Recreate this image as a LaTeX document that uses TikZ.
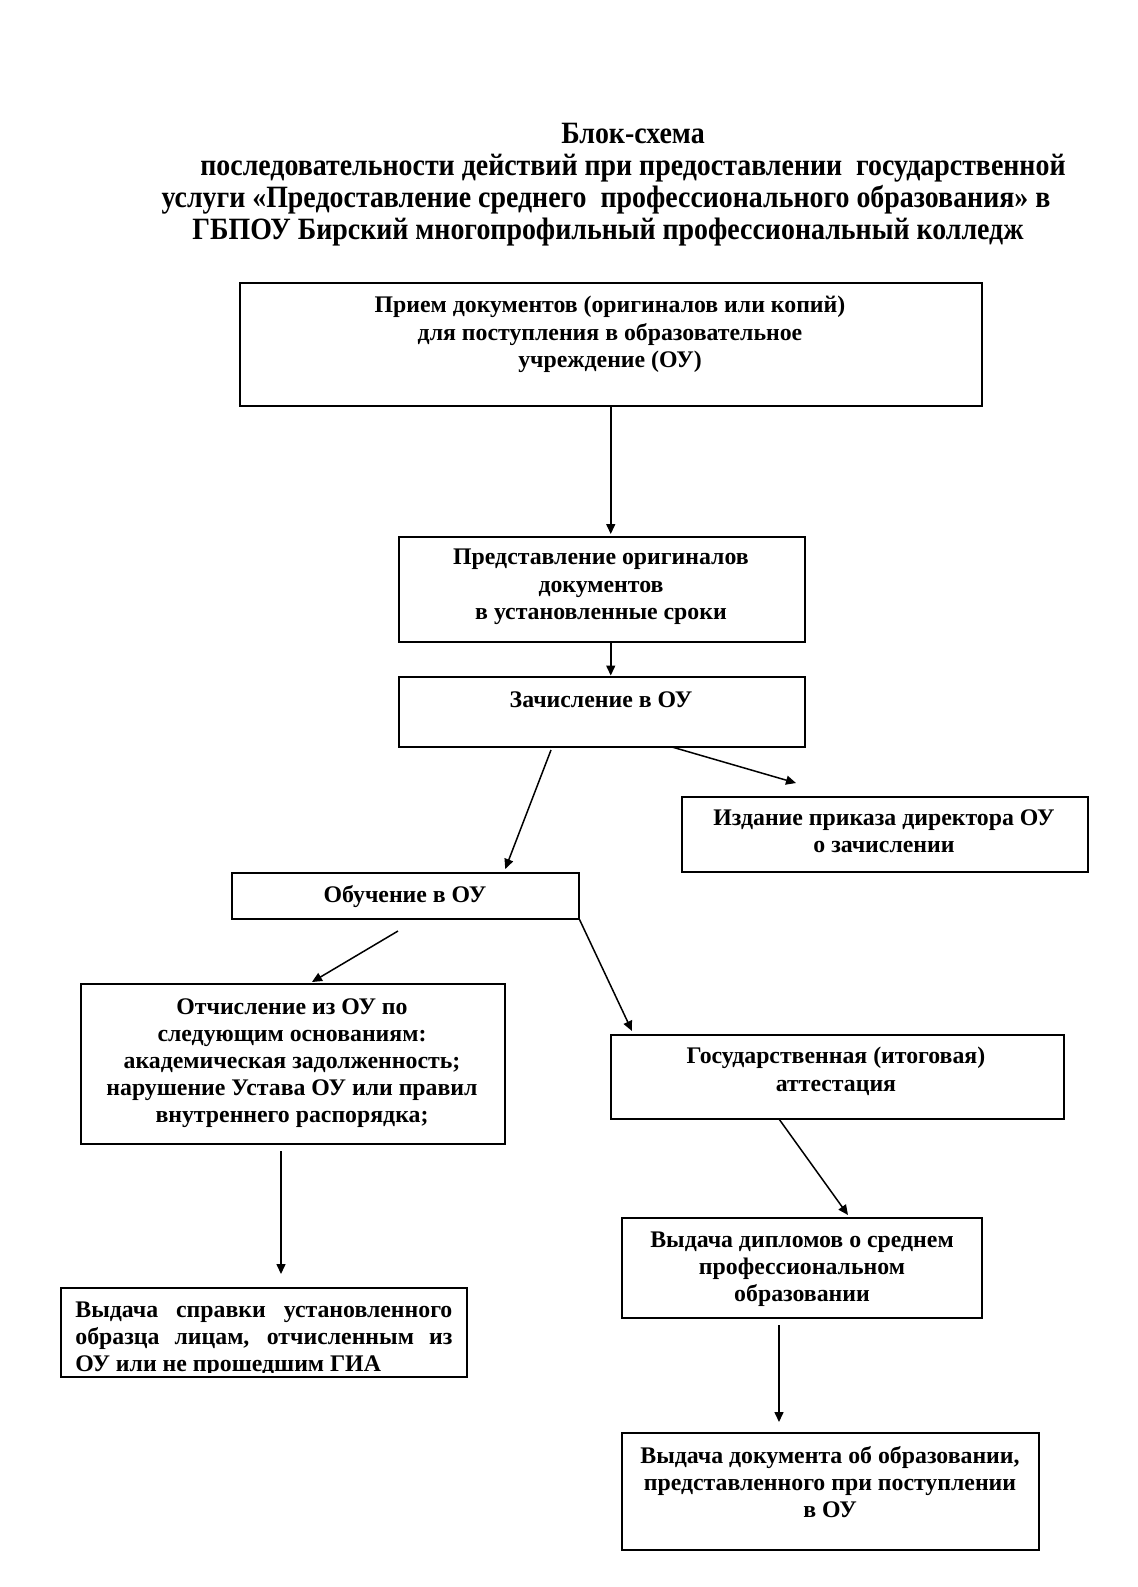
\documentclass[tikz,border=0pt]{standalone}
\usepackage{fontspec}
\setmainfont{Liberation Serif}
\newfontfamily\titlefont[FakeStretch=0.9]{Liberation Serif}
\usetikzlibrary{arrows.meta,calc}
\begin{document}
\begin{tikzpicture}[x=0.5pt,y=-0.5pt,
  box/.style={draw, line width=0.75pt, anchor=north west, inner sep=0pt},
  txt/.style={font=\bfseries\fontsize{11.9}{13.6}\selectfont, align=center, inner sep=0pt, anchor=north},
  ttl/.style={font=\titlefont\bfseries\fontsize{15.5}{16}\selectfont, inner sep=0pt, anchor=base},
  arr/.style={line width=0.75pt, -{Triangle[length=5pt,width=4.5pt]}}]
\useasboundingbox[fill=white] (0,0) rectangle (1137,1587);

% title
\node[ttl] (t1) at (633,143) {Блок-схема};
\node[ttl] (t2) at (633,175) {последовательности действий при предоставлении\ \ государственной};
\node[ttl] (t3) at (606,207) {услуги «Предоставление среднего\ \ профессионального образования» в};
\node[ttl] (t4) at (608,239) {ГБПОУ Бирский многопрофильный профессиональный колледж};

% boxes
\node[box, minimum width=371pt, minimum height=61.5pt] (b1) at (239,282) {};
\node[box, minimum width=203pt, minimum height=52.5pt] (b2) at (398,536) {};
\node[box, minimum width=203pt, minimum height=35pt] (b3) at (398,676) {};
\node[box, minimum width=203pt, minimum height=37.5pt] (b4) at (681,796) {};
\node[box, minimum width=173.5pt, minimum height=23pt] (b5) at (231,872) {};
\node[box, minimum width=212pt, minimum height=80pt] (b6) at (80,983) {};
\node[box, minimum width=226.5pt, minimum height=42pt] (b7) at (610,1034) {};
\node[box, minimum width=203pt, minimum height=44.5pt] (b8) at (60,1287) {};
\node[box, minimum width=180pt, minimum height=50pt] (b9) at (621,1217) {};
\node[box, minimum width=208.5pt, minimum height=58.5pt] (b10) at (621,1432) {};

% texts
\node[txt] (x1) at (610,296) {Прием документов (оригиналов или копий)\\для поступления в образовательное\\учреждение (ОУ)};
\node[txt] (x2) at (601,549) {Представление оригиналов\\документов\\в установленные сроки};
\node[txt] (x3) at (601,691) {Зачисление в ОУ};
\node[txt] (x4) at (884,809) {Издание приказа директора ОУ\\о зачислении};
\node[txt] (x5) at (405,885) {Обучение в ОУ};
\node[txt] (x6) at (292,998) {Отчисление из ОУ по\\следующим основаниям:\\академическая задолженность;\\нарушение Устава ОУ или правил\\внутреннего распорядка;};
\node[txt] (x7) at (836,1047) {Государственная (итоговая)\\аттестация};
\begin{scope}
\clip (b8.north west) rectangle ($(b8.south east)+(0,-5)$);
\node[txt, align=left, anchor=north west] (x8) at (75,1301) {\makebox[188.5pt][s]{Выдача справки установленного}\\\makebox[188.5pt][s]{образца лицам, отчисленным из}\\ОУ или не прошедшим ГИА};
\end{scope}
\node[txt] (x9) at (802,1231) {Выдача дипломов о среднем\\профессиональном\\образовании};
\node[txt] (x10) at (830,1446) {Выдача документа об образовании,\\представленного при поступлении\\в ОУ};

% connectors
\coordinate (c3a) at (551,750);
\coordinate (c4a) at (672,747);
\coordinate (c5a) at (398,931);
\coordinate (c6a) at (281,1151);
\coordinate (c8a) at (779,1119);
\coordinate (c9a) at (779,1325);
\draw[arr] (b1.south) -- ($(b1.south |- b2.north)+(0,-2)$);
\draw[arr] (b2.north |- b2.south) ++(9,0) -- ($(b2.south)+(9,33)$);
\draw[arr] (c3a) -- ($(b5.north)+(100,-3)$);
\draw[arr] (c4a) -- ($(b4.north west)+(115,-13)$);
\draw[arr] (c5a) -- ($(b6.north west)+(232,-1)$);
\draw[arr] (b5.south east) -- ($(b7.north west)+(22,-3)$);
\draw[arr] (c6a) -- ($(b8.north west)+(221,-13)$);
\draw[arr] (c8a) -- ($(b9.north west)+(227,-2)$);
\draw[arr] (c9a) -- ($(b10.north west)+(158,-10)$);
\end{tikzpicture}
\end{document}
